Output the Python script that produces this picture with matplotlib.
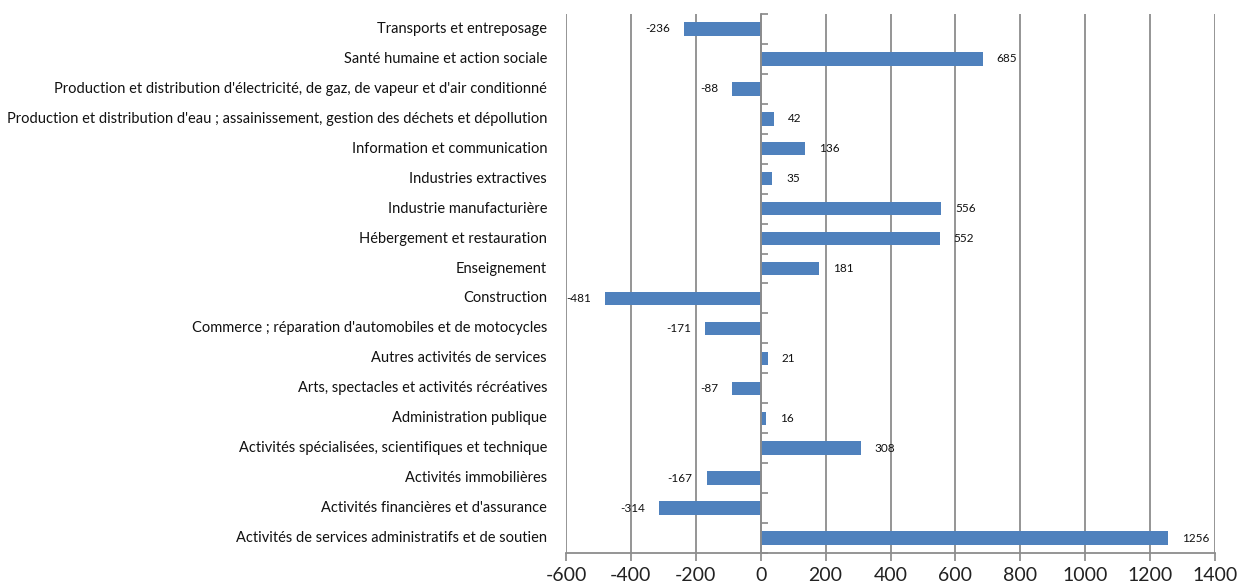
import matplotlib
matplotlib.use("Agg")
import matplotlib.pyplot as plt
import matplotlib.transforms as mtransforms
import numpy as np

plt.rcParams['font.family'] = ['Lato', 'DejaVu Sans']

categories = [
    "Activités de services administratifs et de soutien",
    "Activités financières et d'assurance",
    "Activités immobilières",
    "Activités spécialisées, scientifiques et technique",
    "Administration publique",
    "Arts, spectacles et activités récréatives",
    "Autres activités de services",
    "Commerce ; réparation d'automobiles et de motocycles",
    "Construction",
    "Enseignement",
    "Hébergement et restauration",
    "Industrie manufacturière",
    "Industries extractives",
    "Information et communication",
    "Production et distribution d'eau ; assainissement, gestion des déchets et dépollution",
    "Production et distribution d'électricité, de gaz, de vapeur et d'air conditionné",
    "Santé humaine et action sociale",
    "Transports et entreposage",
]
values = [1256, -314, -167, 308, 16, -87, 21, -171, -481, 181, 552, 556, 35, 136, 42, -88, 685, -236]
xticks = [-600, -400, -200, 0, 200, 400, 600, 800, 1000, 1200, 1400]

fig = plt.figure(figsize=(12.37, 5.85), dpi=100)
ax = fig.add_axes([566/1237, 1 - 553/585, (1215 - 566)/1237, (553 - 14)/585])

y = np.arange(len(categories))
bar_color = "#4F81BD"
ax.barh(y, values, height=0.45, color=bar_color, zorder=3)

ax.set_xlim(-600, 1400)
ax.set_ylim(-0.5, len(categories) - 0.5)
ax.set_xticks(xticks)
ax.set_xticklabels([str(t) for t in xticks], fontsize=14, color="#222222")
ax.tick_params(axis='x', direction='out', length=6, width=1.2, color="#888888", pad=4)

ax.grid(axis='x', color="#8c8c8c", linewidth=1.3, zorder=0)
for s in ['top', 'right']:
    ax.spines[s].set_visible(False)
ax.spines['bottom'].set_color("#8c8c8c")
ax.spines['bottom'].set_linewidth(1.3)

# vertical axis at zero
ax.spines['left'].set_position(('data', 0))
ax.spines['left'].set_color("#8c8c8c")
ax.spines['left'].set_linewidth(1.3)
ax.spines['left'].set_zorder(4)
ax.set_yticks(np.arange(-0.5, len(categories), 1.0))
ax.set_yticklabels([])
ax.tick_params(axis='y', direction='in', length=5, width=1.2, color="#888888")

trans = mtransforms.blended_transform_factory(fig.transFigure, ax.transData)
for yi, cat in zip(y, categories):
    ax.text(547/1237, yi, cat, transform=trans, ha='right', va='center',
            fontsize=10.5, color="#111111")

for yi, v in zip(y, values):
    if v >= 0:
        ax.annotate(str(v), (v, yi), xytext=(10, 0), textcoords='offset points',
                    ha='left', va='center', fontsize=8.5, color="#111111")
    else:
        ax.annotate(str(v), (v, yi), xytext=(-10, 0), textcoords='offset points',
                    ha='right', va='center', fontsize=8.5, color="#111111")

fig.savefig("out.png", dpi=100)
